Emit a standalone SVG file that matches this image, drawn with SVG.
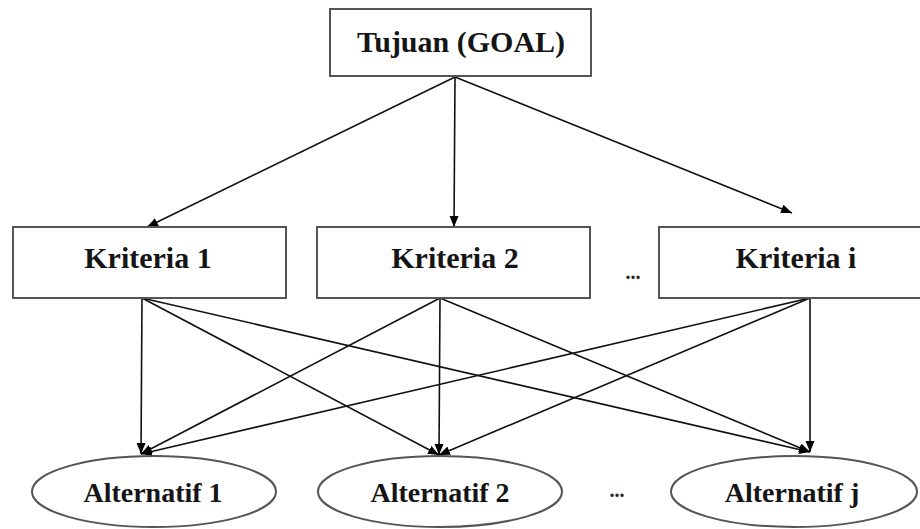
<svg xmlns="http://www.w3.org/2000/svg" width="920" height="529" viewBox="0 0 920 529">
<defs>
<marker id="arr" markerUnits="userSpaceOnUse" markerWidth="12" markerHeight="10" refX="11" refY="4.5" orient="auto">
<path d="M0,0 L11,4.5 L0,9 z" fill="#000"/>
</marker>
<style>
.box{fill:#fff;stroke:#555;stroke-width:2}
.lbl{font-family:"Liberation Serif","Times New Roman",serif;font-weight:bold;fill:#151515;text-anchor:middle}
.c{stroke:#111;stroke-width:1.6;fill:none;marker-end:url(#arr)}
.dots{font-family:"Liberation Serif",serif;font-weight:bold;font-size:20px;fill:#222;text-anchor:middle}
</style>
</defs>
<rect width="920" height="529" fill="#fff"/>
<g id="connectors">
<line class="c" x1="455" y1="77" x2="147" y2="227"/>
<line class="c" x1="455" y1="77" x2="454" y2="227"/>
<line class="c" x1="455" y1="77" x2="792" y2="213"/>
<line class="c" x1="142" y1="298" x2="141" y2="454"/>
<line class="c" x1="142" y1="298" x2="439" y2="455"/>
<line class="c" x1="142" y1="298" x2="810" y2="452"/>
<line class="c" x1="440" y1="298" x2="141" y2="454"/>
<line class="c" x1="440" y1="298" x2="439" y2="455"/>
<line class="c" x1="440" y1="298" x2="810" y2="452"/>
<line class="c" x1="810" y1="298" x2="141" y2="454"/>
<line class="c" x1="810" y1="298" x2="439" y2="455"/>
<line class="c" x1="810" y1="298" x2="810" y2="452"/>
</g>
<g id="goal">
<rect class="box" x="330" y="9" width="261" height="67"/>
<text class="lbl" x="461" y="52" font-size="30">Tujuan (GOAL)</text>
</g>
<g id="kriteria1">
<rect class="box" x="13" y="227" width="273" height="71"/>
<text class="lbl" x="148" y="268" font-size="30">Kriteria 1</text>
</g>
<g id="kriteria2">
<rect class="box" x="317" y="227" width="273" height="71"/>
<text class="lbl" x="455" y="268" font-size="30">Kriteria 2</text>
</g>
<g id="kriteriai">
<rect class="box" x="659" y="227" width="270" height="71"/>
<text class="lbl" x="796" y="268" font-size="30">Kriteria i</text>
</g>
<text class="dots" x="633" y="279">...</text>
<g id="alternatif1">
<ellipse class="box" cx="154" cy="491.5" rx="122" ry="35.5"/>
<text class="lbl" x="153" y="502" font-size="28">Alternatif 1</text>
</g>
<g id="alternatif2">
<ellipse class="box" cx="440" cy="491.5" rx="122" ry="35.5"/>
<text class="lbl" x="440" y="502" font-size="28">Alternatif 2</text>
</g>
<g id="alternatifj">
<ellipse class="box" cx="794" cy="491.5" rx="123" ry="35.5"/>
<text class="lbl" x="792" y="502" font-size="28">Alternatif j</text>
</g>
<text class="dots" x="617" y="497">...</text>
</svg>
